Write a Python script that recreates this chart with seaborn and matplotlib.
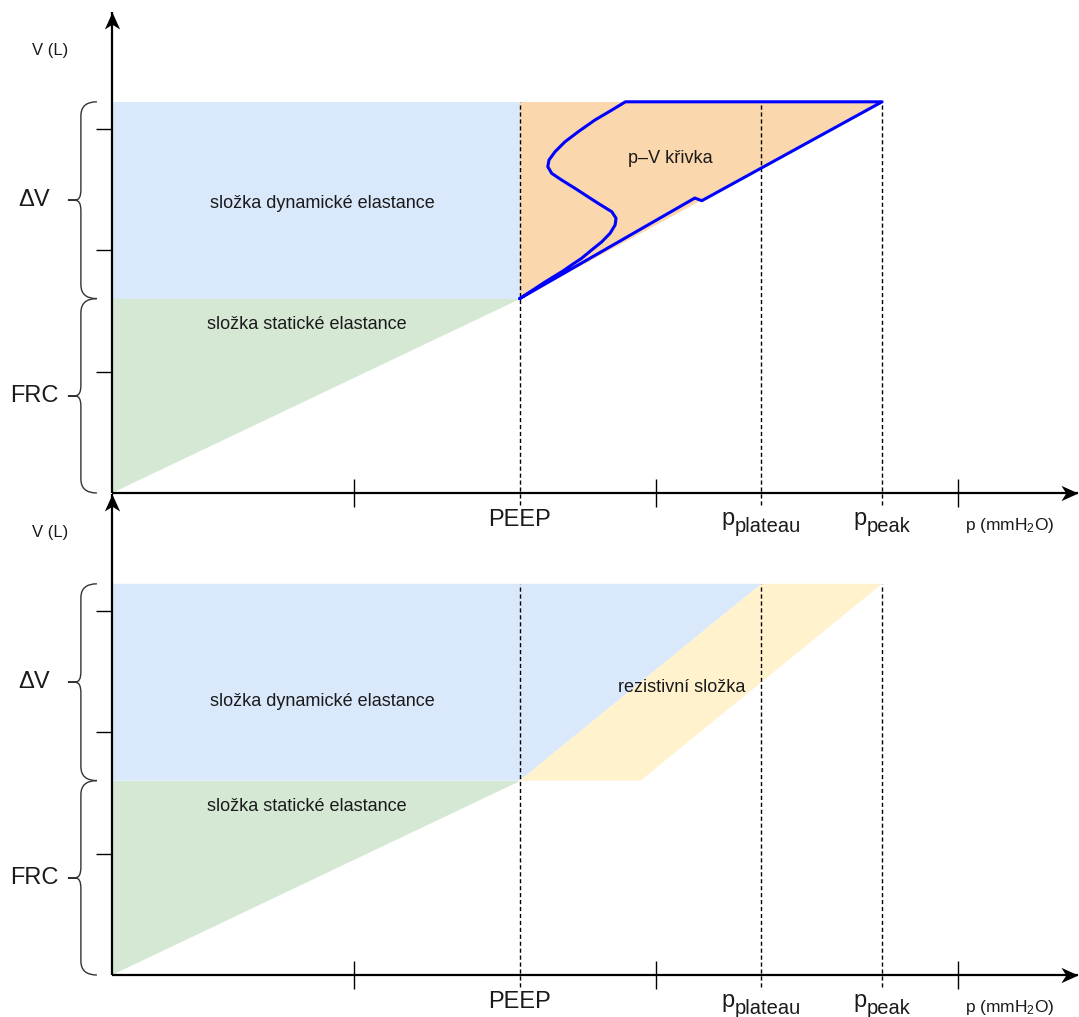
import numpy as np
import pandas as pd
import matplotlib
matplotlib.use("Agg")
import matplotlib.pyplot as plt
import matplotlib.transforms as mtransforms
from matplotlib.path import Path
from matplotlib.patches import PathPatch
import seaborn as sns

# ---------------- data (schematic values) ----------------
P_PEEP = 13.5
P_PLATEAU = 21.5
P_PEAK = 25.5
P_RES_END = 17.5          # lower right corner of the resistive band
V_FRC = 1.6
V_TOP = 3.22
X_TICKS = [8, 18, 28]
Y_TICKS = [1, 2, 3]
X_MAX = 32.0
Y_MAX = 3.96

# p-V loop (inspiration along the lower edge, expiration back along the S-curve)
PV_P = [13.5, 19.30, 19.53, 25.5, 17.0, 16.55, 15.99, 15.44, 15.00, 14.67, 14.47,
        14.43, 14.56, 14.89, 15.33, 15.72, 16.10, 16.55, 16.69, 16.66, 16.49, 16.22,
        15.88, 15.55, 15.22, 14.93, 14.34, 13.5]
PV_V = [1.6, 2.428, 2.406, 3.22, 3.22, 3.152, 3.070, 2.974, 2.891, 2.809, 2.741,
        2.686, 2.631, 2.576, 2.508, 2.445, 2.384, 2.315, 2.261, 2.206, 2.137, 2.068,
        2.000, 1.932, 1.877, 1.827, 1.737, 1.6]

LBL_V = "V (L)"
LBL_DV = "ΔV"
LBL_FRC = "FRC"
LBL_PEEP = "PEEP"
LBL_P = r"p (mmH$_\mathrm{2}$O)"
LBL_DYN = "složka dynamické elastance"
LBL_STAT = "složka statické elastance"
LBL_PV = "p–V křivka"
LBL_RES = "rezistivní složka"

C_BLUE = "#dae8fc"
C_GREEN = "#d5e8d4"
C_ORANGE = "#fad7ac"
C_YELLOW = "#fff2cc"
C_TEXT = "#1a1a1a"

# ---------------- style ----------------
sns.set_style("white")
plt.rcParams["font.family"] = ["Liberation Sans", "DejaVu Sans"]
plt.rcParams["mathtext.fontset"] = "custom"
plt.rcParams["mathtext.rm"] = "Liberation Sans"
plt.rcParams["mathtext.it"] = "Liberation Sans:italic"
plt.rcParams["mathtext.bf"] = "Liberation Sans:bold"

W, H = 1079, 1017
fig = plt.figure(figsize=(W / 100, H / 100), dpi=100)
fig.patch.set_facecolor("white")

ax_w = 966.4 / W
ax_h = 481.1 / H
ax_top = fig.add_axes([112 / W, 1 - 493 / H, ax_w, ax_h])
ax_bot = fig.add_axes([112 / W, 1 - 975 / H, ax_w, ax_h])

arrow_right = Path([(0, 0), (-1, 0.45), (-0.72, 0), (-1, -0.45), (0, 0)],
                   [Path.MOVETO, Path.LINETO, Path.LINETO, Path.LINETO, Path.CLOSEPOLY])
arrow_up = Path([(0, 0), (-0.45, -1), (0, -0.72), (0.45, -1), (0, 0)],
                [Path.MOVETO, Path.LINETO, Path.LINETO, Path.LINETO, Path.CLOSEPOLY])


def brace(ax, y0, y1):
    xe, xb, xm, xt = -0.50, -1.03, -1.22, -1.46
    ry, rt = 0.115, 0.085
    ym = (y0 + y1) / 2
    verts = [(xe, y1), (xb, y1), (xb, y1 - ry),
             (xb, ym + rt), (xb, ym), (xm, ym),
             (xt, ym), (xm, ym),
             (xb, ym), (xb, ym - rt),
             (xb, y0 + ry), (xb, y0), (xe, y0)]
    codes = [Path.MOVETO, Path.CURVE3, Path.CURVE3,
             Path.LINETO, Path.CURVE3, Path.CURVE3,
             Path.LINETO, Path.LINETO,
             Path.CURVE3, Path.CURVE3,
             Path.LINETO, Path.CURVE3, Path.CURVE3]
    ax.add_patch(PathPatch(Path(verts, codes), fill=False, lw=1.0,
                           ec="#333333", clip_on=False, zorder=5))


def sub_label(ax, x, main, sub):
    t1 = ax.text(x, -0.263, main, fontsize=17, ha="left", va="baseline",
                 color=C_TEXT, clip_on=False)
    t2 = ax.text(x, -0.32, sub, fontsize=14.5, ha="left", va="baseline",
                 color=C_TEXT, clip_on=False)
    fig.canvas.draw()
    r = fig.canvas.get_renderer()
    w1 = t1.get_window_extent(r).width
    w2 = t2.get_window_extent(r).width
    tot = w1 + w2
    t1.set_transform(mtransforms.offset_copy(ax.transData, fig=fig, x=-tot / 2, y=0, units="dots"))
    t2.set_transform(mtransforms.offset_copy(ax.transData, fig=fig, x=-tot / 2 + w1, y=0, units="dots"))


def base_axes(ax):
    ax.set_xlim(0, X_MAX)
    ax.set_ylim(0, Y_MAX)
    ax.set_facecolor("none")
    for s in ax.spines.values():
        s.set_visible(False)
    ax.set_xticks(X_TICKS)
    ax.set_yticks(Y_TICKS)
    ax.set_xticklabels([])
    ax.set_yticklabels([])
    ax.tick_params(axis="x", direction="inout", length=20, width=1.0, color="k",
                   bottom=True, labelbottom=False)
    ax.tick_params(axis="y", direction="out", length=11.5, width=1.0, color="k",
                   left=True, labelleft=False)
    ax.grid(False)

    # common fills
    ax.fill([0, 0, P_PEEP], [0, V_FRC, V_FRC], color=C_GREEN, lw=0, zorder=1)

    # dashed guide lines
    ax.vlines([P_PEEP, P_PLATEAU, P_PEAK], -0.1, V_TOP, colors="k",
              linestyles=(0, (3, 2)), lw=1.0, clip_on=False, zorder=2)

    # axes with arrows
    ax.plot([0, X_MAX], [0, 0], color="k", lw=1.6, clip_on=False, zorder=4,
            solid_capstyle="butt")
    ax.plot([0, 0], [0, Y_MAX], color="k", lw=1.6, clip_on=False, zorder=4,
            solid_capstyle="butt")
    ax.plot([X_MAX], [0], marker=arrow_right, ms=24.5, mfc="k", mew=0,
            clip_on=False, zorder=4)
    ax.plot([0], [Y_MAX], marker=arrow_up, ms=24.5, mfc="k", mew=0,
            clip_on=False, zorder=4)

    # braces and left labels
    brace(ax, V_FRC, V_TOP)
    brace(ax, 0, V_FRC)
    ax.text(-2.58, (V_FRC + V_TOP) / 2, LBL_DV, fontsize=17, ha="center", va="center",
            color=C_TEXT, clip_on=False)
    ax.text(-2.58, V_FRC / 2, LBL_FRC, fontsize=17, ha="center", va="center",
            color=C_TEXT, clip_on=False)
    ax.text(-2.05, 3.64, LBL_V, fontsize=12, ha="center", va="center",
            color=C_TEXT, clip_on=False)

    # x-axis labels
    ax.text(P_PEEP, -0.272, LBL_PEEP, fontsize=17, ha="center", va="baseline",
            color=C_TEXT, clip_on=False)
    ax.text(28.25, -0.305, LBL_P, fontsize=12.5, ha="left", va="baseline",
            color=C_TEXT, clip_on=False)
    sub_label(ax, P_PLATEAU, "p", "plateau")
    sub_label(ax, P_PEAK, "p", "peak")


# ---------------- top panel ----------------
base_axes(ax_top)
ax_top.fill([0, 0, P_PEEP, P_PEEP], [V_FRC, V_TOP, V_TOP, V_FRC], color=C_BLUE, lw=0, zorder=1)
ax_top.fill([P_PEEP, P_PEEP, P_PEAK], [V_FRC, V_TOP, V_TOP], color=C_ORANGE, lw=0, zorder=1)

pv = pd.DataFrame({"p": PV_P, "V": PV_V})
sns.lineplot(data=pv, x="p", y="V", sort=False, estimator=None, color="#0000ff",
             lw=2.2, ax=ax_top, zorder=3, legend=False)
for l in ax_top.lines[-1:]:
    l.set_solid_joinstyle("round")
    l.set_solid_capstyle("round")
ax_top.set_xlabel("")
ax_top.set_ylabel("")
ax_top.set_xlim(0, X_MAX)
ax_top.set_ylim(0, Y_MAX)

ax_top.text(6.95, 2.387, LBL_DYN, fontsize=13, ha="center", va="center", color=C_TEXT, zorder=5)
ax_top.text(6.46, 1.383, LBL_STAT, fontsize=13, ha="center", va="center", color=C_TEXT, zorder=5)
ax_top.text(18.48, 2.75, LBL_PV, fontsize=13, ha="center", va="center", color=C_TEXT, zorder=5)

# ---------------- bottom panel ----------------
base_axes(ax_bot)
ax_bot.fill([0, 0, P_PLATEAU, P_PEEP], [V_FRC, V_TOP, V_TOP, V_FRC], color=C_BLUE, lw=0, zorder=1)
ax_bot.fill([P_PEEP, P_PLATEAU, P_PEAK, P_RES_END], [V_FRC, V_TOP, V_TOP, V_FRC],
            color=C_YELLOW, lw=0, zorder=1)
ax_bot.text(6.95, 2.255, LBL_DYN, fontsize=13, ha="center", va="center", color=C_TEXT, zorder=5)
ax_bot.text(6.46, 1.39, LBL_STAT, fontsize=13, ha="center", va="center", color=C_TEXT, zorder=5)
ax_bot.text(18.87, 2.37, LBL_RES, fontsize=13, ha="center", va="center", color=C_TEXT, zorder=5)

fig.savefig("out.png", dpi=100, facecolor="white")
